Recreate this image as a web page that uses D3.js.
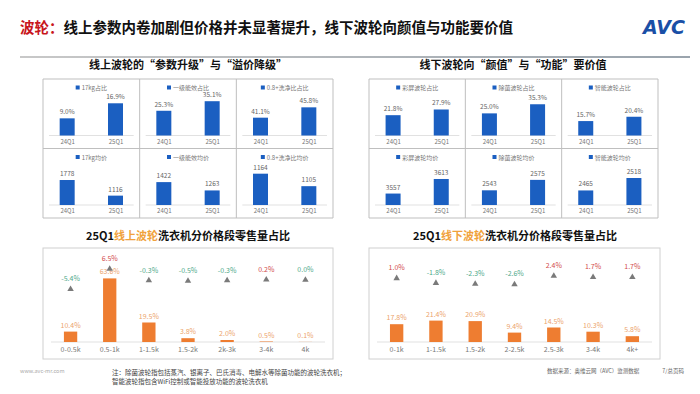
<!DOCTYPE html>
<html>
<head>
<meta charset="utf-8">
<script src="https://cdn.jsdelivr.net/npm/d3@7"></script>
<style>
  body { margin: 0; background: #fff; }
  svg { display: block; font-family: "Noto Sans CJK SC", "Noto Sans", sans-serif; }
</style>
</head>
<body>
<div id="chart"></div>
<script>
// top grids: 24Q1 vs 25Q1
var quarters = ["24Q1", "25Q1"];

var onlineLabels = ["17kg占比", "一级能效占比", "0.8+洗净比占比", "17kg均价", "一级能效均价", "0.8+洗净比均价"];
var onlineValues = [[9.0, 16.9], [25.3, 35.1], [41.1, 45.8], [1778, 1116], [1422, 1263], [1164, 1105]];
var onlineAxis = [[0, 20.2], [0, 39.4], [33, 50.5], [719, 2351], [985, 1720], [1016, 1198]];

var offlineLabels = ["彩屏波轮占比", "除菌波轮占比", "智能波轮占比", "彩屏波轮均价", "除菌波轮均价", "智能波轮均价"];
var offlineValues = [[21.8, 27.9], [25.0, 35.3], [15.7, 20.4], [3557, 3613], [2543, 2575], [2465, 2518]];
var offlineAxis = [[0, 41.3], [0, 43.5], [0, 41.9], [3513, 3661], [2498, 2616], [2403, 2567]];

// bottom charts: share by price band + yoy change
var onlineBands = ["0-0.5k", "0.5-1k", "1-1.5k", "1.5-2k", "2k-3k", "3-4k", "4k"];
var onlineShare = [10.4, 63.6, 19.5, 3.8, 2.0, 0.5, 0.1];
var onlineChange = [-5.4, 6.5, -0.3, -0.5, -0.3, 0.2, 0.0];

var offlineBands = ["0-1k", "1-1.5k", "1.5-2k", "2-2.5k", "2.5-3k", "3-4k", "4k+"];
var offlineShare = [17.8, 21.4, 20.9, 9.4, 14.5, 10.3, 5.8];
var offlineChange = [1.0, -1.8, -2.3, -2.6, 2.4, 1.7, 1.7];

var BLUE = "#1b5fc1";
var ORANGE = "#ee7d31";
var RED = "#d24b4b";
var GREEN = "#4fa98a";
var GRAY = "#666";

var svg = d3.select("#chart").append("svg").attr("width", 700).attr("height", 394);

// Header
var title = svg.append("text").attr("x", 20).attr("y", 33)
  .style("font-size", "14.5px").style("font-weight", 700);
title.append("tspan").attr("fill", "#c8161d").text("波轮：");
title.append("tspan").attr("fill", "#111").text("线上参数内卷加剧但价格并未显著提升，线下波轮向颜值与功能要价值");

svg.append("text").attr("x", 685).attr("y", 34).attr("text-anchor", "end")
  .attr("fill", "#1a4fa6").style("font-size", "19px").style("font-weight", 900)
  .style("font-style", "italic").style("font-family", "DejaVu Sans")
  .text("AVC");

var grad = svg.append("defs").append("linearGradient").attr("id", "rule");
grad.append("stop").attr("offset", "0%").attr("stop-color", "#c8c8c8");
grad.append("stop").attr("offset", "100%").attr("stop-color", "#9aa4ad");
svg.append("rect").attr("x", 20).attr("y", 56).attr("width", 670).attr("height", 2).attr("fill", "url(#rule)");

// Section titles
function sectionTitle(x, y, parts) {
  var t = svg.append("text").attr("x", x).attr("y", y).attr("text-anchor", "middle")
    .style("font-size", "11px").style("font-weight", 700);
  parts.forEach(function (p) {
    t.append("tspan").attr("fill", p[1] || "#111").text(p[0]);
  });
}

sectionTitle(188, 69, [["线上波轮的“参数升级”与“溢价降级”"]]);
sectionTitle(513, 69, [["线下波轮向“颜值”与“功能”要价值"]]);
sectionTitle(188, 240, [["25Q1"], ["线上波轮", "#f0a23c"], ["洗衣机分价格段零售量占比"]]);
sectionTitle(515, 240, [["25Q1"], ["线下波轮", "#f0a23c"], ["洗衣机分价格段零售量占比"]]);

// Small multiples grid
function drawGrid(x0, x1, y0, y1, labels, values, axes) {
  var cols = 3, rows = 2;
  var cw = (x1 - x0) / cols, ch = (y1 - y0) / rows;
  var g = svg.append("g");

  labels.forEach(function (label, i) {
    var cx = x0 + (i % cols) * cw;
    var cy = y0 + Math.floor(i / cols) * ch;
    var cell = g.append("g").attr("transform", `translate(${cx},${cy})`);
    var base = ch - 13;

    var x = d3.scalePoint().domain(quarters).range([0, cw]).padding(0.5);
    var y = d3.scaleLinear().domain(axes[i]).range([base, 18]);
    var isPct = axes[i][1] < 100;
    var fmt = isPct ? (v) => v.toFixed(1) + "%" : (v) => String(v);

    // legend
    var leg = cell.append("g").attr("transform", `translate(${cw / 2},11)`);
    var lt = leg.append("text").attr("text-anchor", "middle").attr("x", 3)
      .attr("fill", "#777").style("font-size", "6px").text(label);
    var lw = lt.node().getComputedTextLength();
    leg.append("rect").attr("x", 3 - lw / 2 - 6).attr("y", -4.5).attr("width", 4).attr("height", 4).attr("fill", BLUE);

    cell.append("line").attr("x1", 6).attr("x2", cw - 6).attr("y1", base).attr("y2", base)
      .attr("stroke", "#d9d9d9").attr("stroke-width", 0.8);

    var rows2 = quarters.map((q, j) => ({ q: q, v: values[i][j] }));

    cell.selectAll("rect.bar").data(rows2).enter().append("rect")
      .attr("class", "bar")
      .attr("x", (d) => x(d.q) - 7.5)
      .attr("width", 15)
      .attr("y", (d) => y(d.v))
      .attr("height", (d) => base - y(d.v))
      .attr("fill", BLUE);

    cell.selectAll("text.val").data(rows2).enter().append("text")
      .attr("class", "val")
      .attr("x", (d) => x(d.q))
      .attr("y", (d) => y(d.v) - 4)
      .attr("text-anchor", "middle")
      .attr("fill", GRAY).style("font-size", "6.5px")
      .text((d) => fmt(d.v));

    var ax = d3.axisBottom(x).tickSize(0).tickPadding(4);
    var axg = cell.append("g").attr("transform", `translate(0,${base})`).call(ax);
    axg.select(".domain").remove();
    axg.selectAll("text").attr("fill", "#777").style("font-size", "6px")
      .style("font-family", "'Noto Sans CJK SC', sans-serif");
  });

  // borders
  for (var c = 0; c <= cols; c++) {
    g.append("line").attr("x1", x0 + c * cw).attr("x2", x0 + c * cw).attr("y1", y0).attr("y2", y1)
      .attr("stroke", "#bfbfbf").attr("stroke-width", 1);
  }
  for (var r = 0; r <= rows; r++) {
    g.append("line").attr("x1", x0).attr("x2", x1).attr("y1", y0 + r * ch).attr("y2", y0 + r * ch)
      .attr("stroke", "#bfbfbf").attr("stroke-width", 1);
  }
}

drawGrid(43, 333, 79, 218, onlineLabels, onlineValues, onlineAxis);
drawGrid(369, 658, 79, 218, offlineLabels, offlineValues, offlineAxis);

// Price band charts
function drawBands(x0, x1, bands, share, change) {
  var top = 248, bottom = 359, base = 342;
  var g = svg.append("g");

  g.append("rect").attr("x", x0).attr("y", top).attr("width", x1 - x0).attr("height", bottom - top)
    .attr("fill", "none").attr("stroke", "#d0d0d0").attr("stroke-width", 1);

  var x = d3.scaleBand().domain(bands).range([x0 + 8, x1 - 8]).paddingInner(0.66).paddingOuter(0.33);
  var y = d3.scaleLinear().domain([0, 90]).range([base, base - 90]);
  var yc = d3.scaleLinear().domain([-10, 10]).range([297, 263]);

  g.append("line").attr("x1", x0 + 8).attr("x2", x1 - 8).attr("y1", base).attr("y2", base)
    .attr("stroke", "#d9d9d9").attr("stroke-width", 0.8);

  var rows = bands.map((b, i) => ({ b: b, v: share[i], c: change[i] }));

  g.selectAll("rect.bar").data(rows).enter().append("rect")
    .attr("class", "bar")
    .attr("x", (d) => x(d.b))
    .attr("width", x.bandwidth())
    .attr("y", (d) => y(d.v))
    .attr("height", (d) => base - y(d.v))
    .attr("fill", ORANGE);

  g.selectAll("text.val").data(rows).enter().append("text")
    .attr("class", "val")
    .attr("x", (d) => x(d.b) + x.bandwidth() / 2)
    .attr("y", (d) => y(d.v) - 4)
    .attr("text-anchor", "middle")
    .attr("fill", "#eca46c").style("font-size", "7px")
    .text((d) => d.v.toFixed(1) + "%");

  var tri = d3.symbol().type(d3.symbolTriangle).size(18);
  g.selectAll("path.tri").data(rows).enter().append("path")
    .attr("class", "tri")
    .attr("d", tri)
    .attr("transform", (d) => `translate(${x(d.b) + x.bandwidth() / 2},${yc(d.c)})`)
    .attr("fill", "#7a7a7a");

  g.selectAll("text.chg").data(rows).enter().append("text")
    .attr("class", "chg")
    .attr("x", (d) => x(d.b) + x.bandwidth() / 2)
    .attr("y", (d) => yc(d.c) - 8)
    .attr("text-anchor", "middle")
    .attr("fill", (d) => (d.c > 0 ? RED : GREEN)).style("font-size", "7px")
    .text((d) => d.c.toFixed(1) + "%");

  var ax = d3.axisBottom(x).tickSize(0).tickPadding(5);
  var axg = g.append("g").attr("transform", `translate(0,${base})`).call(ax);
  axg.select(".domain").remove();
  axg.selectAll("text").attr("fill", "#777").style("font-size", "7px")
    .style("font-family", "'Noto Sans CJK SC', sans-serif");
}

drawBands(43, 333, onlineBands, onlineShare, onlineChange);
drawBands(369, 660, offlineBands, offlineShare, offlineChange);

// Footer
svg.append("text").attr("x", 20).attr("y", 373).attr("fill", "#aaa").style("font-size", "5.5px").text("www.avc-mr.com");
svg.append("text").attr("x", 112).attr("y", 375).attr("fill", "#444").style("font-size", "6.5px")
  .text("注：除菌波轮指包括蒸汽、银离子、巴氏消毒、电解水等除菌功能的波轮洗衣机；");
svg.append("text").attr("x", 112).attr("y", 384).attr("fill", "#444").style("font-size", "6.5px")
  .text("智能波轮指包含WiFi控制或智能投放功能的波轮洗衣机");
svg.append("text").attr("x", 547).attr("y", 373).attr("fill", "#666").style("font-size", "5.5px")
  .text("数据来源：奥维云网（AVC）监测数据");
svg.append("text").attr("x", 684).attr("y", 373).attr("text-anchor", "end").attr("fill", "#666").style("font-size", "5.5px")
  .text("7/总页码");
</script>
</body>
</html>
